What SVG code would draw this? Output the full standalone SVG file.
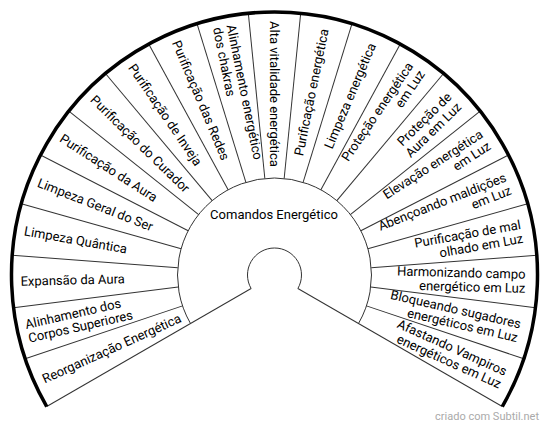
<svg xmlns="http://www.w3.org/2000/svg" width="550" height="428" viewBox="0 0 550 428">
<style>
.div{stroke:#333;stroke-width:1;fill:none}
.arc{stroke:#333;stroke-width:1;fill:none}
.outer{stroke:#000;stroke-width:3.5;fill:none}
text{font-family:Roboto,"Liberation Sans",sans-serif;font-size:13px;fill:#000}
.l{text-anchor:start}
.r{text-anchor:end}
.wm{font-size:11px;fill:#aaa;text-anchor:end}
</style>
<rect width="550" height="428" fill="#fff"/>
<g id="connectors">
<g transform="translate(274.5 275)">
<line class="div" x1="27" y1="0" x2="263" y2="0" transform="rotate(-210)"/>
<line class="div" x1="27" y1="0" x2="263" y2="0" transform="rotate(30)"/>
<line class="div" x1="97" y1="0" x2="263" y2="0" transform="rotate(-198.5714)"/>
<line class="div" x1="97" y1="0" x2="263" y2="0" transform="rotate(-187.1429)"/>
<line class="div" x1="97" y1="0" x2="263" y2="0" transform="rotate(-175.7143)"/>
<line class="div" x1="97" y1="0" x2="263" y2="0" transform="rotate(-164.2857)"/>
<line class="div" x1="97" y1="0" x2="263" y2="0" transform="rotate(-152.8571)"/>
<line class="div" x1="97" y1="0" x2="263" y2="0" transform="rotate(-141.4286)"/>
<line class="div" x1="97" y1="0" x2="263" y2="0" transform="rotate(-130)"/>
<line class="div" x1="97" y1="0" x2="263" y2="0" transform="rotate(-118.5714)"/>
<line class="div" x1="97" y1="0" x2="263" y2="0" transform="rotate(-107.1429)"/>
<line class="div" x1="97" y1="0" x2="263" y2="0" transform="rotate(-95.7143)"/>
<line class="div" x1="97" y1="0" x2="263" y2="0" transform="rotate(-84.2857)"/>
<line class="div" x1="97" y1="0" x2="263" y2="0" transform="rotate(-72.8571)"/>
<line class="div" x1="97" y1="0" x2="263" y2="0" transform="rotate(-61.4286)"/>
<line class="div" x1="97" y1="0" x2="263" y2="0" transform="rotate(-50)"/>
<line class="div" x1="97" y1="0" x2="263" y2="0" transform="rotate(-38.5714)"/>
<line class="div" x1="97" y1="0" x2="263" y2="0" transform="rotate(-27.1429)"/>
<line class="div" x1="97" y1="0" x2="263" y2="0" transform="rotate(-15.7143)"/>
<line class="div" x1="97" y1="0" x2="263" y2="0" transform="rotate(-4.2857)"/>
<line class="div" x1="97" y1="0" x2="263" y2="0" transform="rotate(7.1429)"/>
<line class="div" x1="97" y1="0" x2="263" y2="0" transform="rotate(18.5714)"/>
</g>
<path class="arc" d="M251.117 288.5 A27 27 0 1 1 297.883 288.5"/>
<path class="arc" d="M190.496 323.5 A97 97 0 1 1 358.504 323.5"/>
<path class="outer" d="M46.735 406.5 A263 263 0 1 1 502.265 406.5"/>
</g>
<g id="center"><text x="274" y="218.5" text-anchor="middle">Comandos Energético</text></g>
<g id="s1" transform="translate(274.5 275) rotate(-24.2857)"><text class="l" x="-254" y="4.5">Reorganização Energética</text></g>
<g id="s2" transform="translate(274.5 275) rotate(-12.8571)"><text class="l" x="-254" y="-2.5">Alinhamento dos</text><text class="l" x="-254" y="11.5">Corpos Superiores</text></g>
<g id="s3" transform="translate(274.5 275) rotate(-1.4286)"><text class="l" x="-254" y="4.5">Expansão da Aura</text></g>
<g id="s4" transform="translate(274.5 275) rotate(10)"><text class="l" x="-254" y="4.5">Limpeza Quântica</text></g>
<g id="s5" transform="translate(274.5 275) rotate(21.4286)"><text class="l" x="-254" y="4.5">Limpeza Geral do Ser</text></g>
<g id="s6" transform="translate(274.5 275) rotate(32.8571)"><text class="l" x="-254" y="4.5">Purificação da Aura</text></g>
<g id="s7" transform="translate(274.5 275) rotate(44.2857)"><text class="l" x="-254" y="4.5">Purificação do Curador</text></g>
<g id="s8" transform="translate(274.5 275) rotate(55.7143)"><text class="l" x="-254" y="4.5">Purificação de Inveja</text></g>
<g id="s9" transform="translate(274.5 275) rotate(67.1429)"><text class="l" x="-254" y="4.5">Purificação das Redes</text></g>
<g id="s10" transform="translate(274.5 275) rotate(78.5714)"><text class="l" x="-254" y="-2.5">Alinhamento energético</text><text class="l" x="-254" y="11.5">dos chakras</text></g>
<g id="s11" transform="translate(274.5 275) rotate(90)"><text class="l" x="-254" y="4.5">Alta vitalidade energética</text></g>
<g id="s12" transform="translate(274.5 275) rotate(-78.5714)"><text class="r" x="251" y="4.5">Purificação energética</text></g>
<g id="s13" transform="translate(274.5 275) rotate(-67.1429)"><text class="r" x="251" y="4.5">Limpeza energética</text></g>
<g id="s14" transform="translate(274.5 275) rotate(-55.7143)"><text class="r" x="251" y="-2.5">Proteção energética</text><text class="r" x="251" y="11.5">em Luz</text></g>
<g id="s15" transform="translate(274.5 275) rotate(-44.2857)"><text class="r" x="251" y="-2.5">Proteção de</text><text class="r" x="251" y="11.5">Aura em Luz</text></g>
<g id="s16" transform="translate(274.5 275) rotate(-32.8571)"><text class="r" x="251" y="-2.5">Elevação energética</text><text class="r" x="251" y="11.5">em Luz</text></g>
<g id="s17" transform="translate(274.5 275) rotate(-21.4286)"><text class="r" x="251" y="-2.5">Abençoando maldições</text><text class="r" x="251" y="11.5">em Luz</text></g>
<g id="s18" transform="translate(274.5 275) rotate(-10)"><text class="r" x="251" y="-2.5">Purificação de mal</text><text class="r" x="251" y="11.5">olhado em Luz</text></g>
<g id="s19" transform="translate(274.5 275) rotate(1.4286)"><text class="r" x="251" y="-2.5">Harmonizando campo</text><text class="r" x="251" y="11.5">energético em Luz</text></g>
<g id="s20" transform="translate(274.5 275) rotate(12.8571)"><text class="r" x="251" y="-2.5">Bloqueando sugadores</text><text class="r" x="251" y="11.5">energéticos em Luz</text></g>
<g id="s21" transform="translate(274.5 275) rotate(24.2857)"><text class="r" x="251" y="-2.5">Afastando Vampiros</text><text class="r" x="251" y="11.5">energéticos em Luz</text></g>
<g id="watermark"><text class="wm" x="539" y="420">criado com Subtil.net</text></g>
</svg>
